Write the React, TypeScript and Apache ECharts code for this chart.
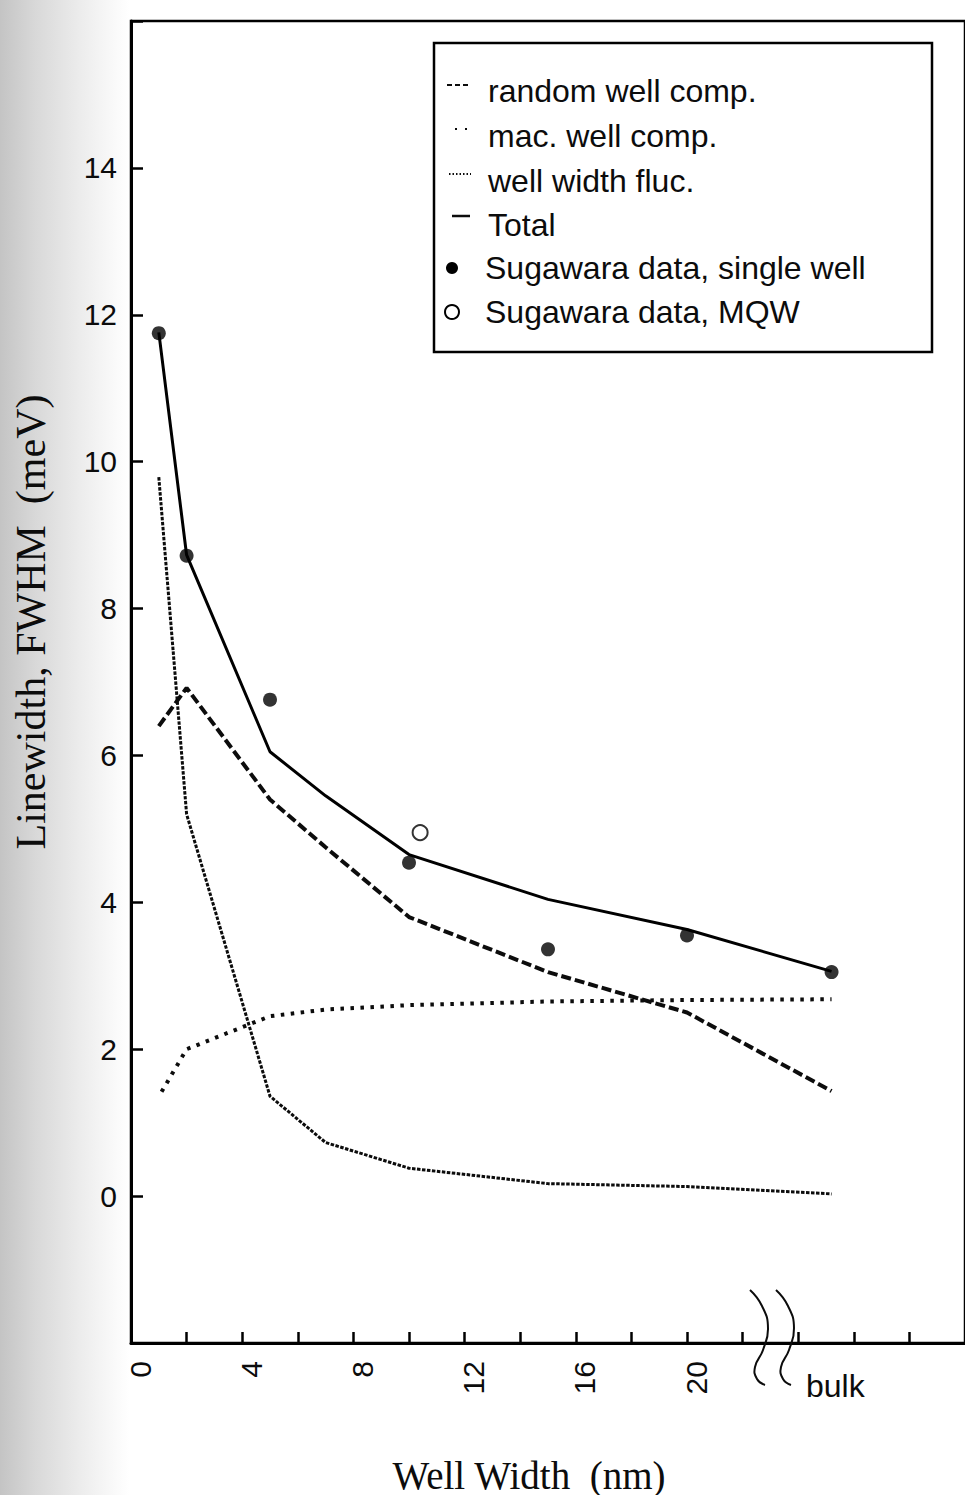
import React, { useEffect, useRef } from "react";
import * as echarts from "echarts";

// Well width (nm); the bulk value is placed at 25.2 beyond the axis break
const totalX = [1, 2, 5, 7, 10, 15, 20, 25.2];
const totalY = [11.76, 8.73, 6.05, 5.45, 4.65, 4.04, 3.63, 3.06];

const randomX = [1, 2, 5, 7, 10, 15, 20, 25.2];
const randomY = [6.4, 6.92, 5.4, 4.75, 3.8, 3.05, 2.5, 1.43];

const macX = [1.1, 2, 5, 7, 10, 15, 20, 25.2];
const macY = [1.42, 2.0, 2.45, 2.54, 2.6, 2.65, 2.67, 2.68];

const fluctX = [1, 2, 5, 7, 10, 15, 20, 25.2];
const fluctY = [9.79, 5.2, 1.36, 0.73, 0.38, 0.17, 0.13, 0.03];

const singleX = [1, 2, 5, 10, 15, 20, 25.2];
const singleY = [11.75, 8.72, 6.76, 4.54, 3.36, 3.55, 3.05];

const mqwX = [10.4];
const mqwY = [4.95];

const xTickLabels = [0, 4, 8, 12, 16, 20];
const yTickLabels = [0, 2, 4, 6, 8, 10, 12, 14];

const legendLabels = [
  "random well comp.",
  "mac. well comp.",
  "well width fluc.",
  "Total",
  "Sugawara data, single well",
  "Sugawara data, MQW",
];

const zip = (xs: number[], ys: number[]) => xs.map((x, i) => [x, ys[i]]);

const SANS = "'Liberation Sans', Arial, Helvetica, sans-serif";
const SERIF = "'Liberation Serif', 'Times New Roman', serif";
const INK = "#0c0c0c";

export default function App() {
  const ref = useRef<HTMLDivElement>(null);

  useEffect(() => {
    if (!ref.current) return;
    const chart = echarts.init(ref.current, undefined, { renderer: "svg" });

    const rowY = [91, 136, 181, 225, 268, 312];

    const legendGroup: any[] = [
      {
        type: "rect",
        shape: { x: 434, y: 43, width: 498, height: 309 },
        style: { fill: "#fff", stroke: "#000", lineWidth: 2.5 },
      },
      {
        type: "line",
        shape: { x1: 447, y1: rowY[0] - 6, x2: 470, y2: rowY[0] - 6 },
        style: { stroke: INK, lineWidth: 2, lineDash: [5, 3] },
      },
      {
        type: "line",
        shape: { x1: 455, y1: rowY[1] - 7, x2: 467, y2: rowY[1] - 7 },
        style: { stroke: INK, lineWidth: 2, lineDash: [2, 8] },
      },
      {
        type: "line",
        shape: { x1: 449, y1: rowY[2] - 7, x2: 471, y2: rowY[2] - 7 },
        style: { stroke: INK, lineWidth: 2, lineDash: [1.5, 2] },
      },
      {
        type: "line",
        shape: { x1: 452, y1: rowY[3] - 9, x2: 470, y2: rowY[3] - 9 },
        style: { stroke: INK, lineWidth: 2.5 },
      },
      {
        type: "circle",
        shape: { cx: 452, cy: rowY[4], r: 6 },
        style: { fill: "#000" },
      },
      {
        type: "circle",
        shape: { cx: 452, cy: rowY[5], r: 7 },
        style: { fill: "#fff", stroke: "#000", lineWidth: 2 },
      },
    ];
    legendLabels.forEach((label, i) => {
      legendGroup.push({
        type: "text",
        x: i < 4 ? 488 : 485,
        y: rowY[i],
        style: {
          text: label,
          font: `32px ${SANS}`,
          fill: INK,
          textAlign: "left",
          textVerticalAlign: "middle",
        },
      });
    });

    // axis break marks before the bulk value
    const breakMark = (dx: number) => ({
      type: "polyline",
      shape: {
        points: [
          [750 + dx, 1290],
          [762 + dx, 1306],
          [768 + dx, 1328],
          [763 + dx, 1350],
          [755 + dx, 1367],
          [757 + dx, 1379],
          [765 + dx, 1385],
        ],
        smooth: 0.5,
      },
      style: { stroke: INK, lineWidth: 2, fill: null },
      z: 10,
    });

    chart.setOption({
      animation: false,
      backgroundColor: "transparent",
      grid: {
        left: 131,
        top: 21,
        width: 835.5,
        height: 1322,
        show: true,
        borderColor: "#000",
        borderWidth: 2.5,
        backgroundColor: "transparent",
      },
      xAxis: {
        type: "value",
        min: 0,
        max: 30,
        interval: 2,
        axisLine: { onZero: false, lineStyle: { color: "#000", width: 3 } },
        axisTick: { inside: true, length: 11, lineStyle: { color: "#000", width: 2.5 } },
        axisLabel: {
          rotate: 90,
          margin: 18,
          fontSize: 30,
          fontFamily: SANS,
          color: INK,
          verticalAlign: "top",
          lineHeight: 18,
          showMinLabel: true,
          formatter: (v: number) => (xTickLabels.includes(v) ? String(v) : ""),
        },
        splitLine: { show: false },
      },
      yAxis: {
        type: "value",
        min: -2,
        max: 16,
        interval: 2,
        axisLine: { onZero: false, lineStyle: { color: "#000", width: 3 } },
        axisTick: { inside: true, length: 12, lineStyle: { color: "#000", width: 2.5 } },
        axisLabel: {
          margin: 14,
          fontSize: 30,
          fontFamily: SANS,
          color: INK,
          padding: [8, 0, 0, 0],
          formatter: (v: number) => (yTickLabels.includes(v) ? String(v) : ""),
        },
        splitLine: { show: false },
      },
      series: [
        {
          name: legendLabels[0],
          type: "line",
          data: zip(randomX, randomY),
          symbol: "none",
          lineStyle: { color: INK, width: 4, type: [10, 4], cap: "butt" },
          z: 2,
        },
        {
          name: legendLabels[1],
          type: "line",
          data: zip(macX, macY),
          symbol: "none",
          lineStyle: { color: INK, width: 4, type: [3.5, 6.5], cap: "butt" },
          z: 2,
        },
        {
          name: legendLabels[2],
          type: "line",
          data: zip(fluctX, fluctY),
          symbol: "none",
          lineStyle: { color: INK, width: 3, type: [3.5, 1.5], cap: "butt" },
          z: 2,
        },
        {
          name: legendLabels[3],
          type: "line",
          data: zip(totalX, totalY),
          symbol: "none",
          lineStyle: { color: "#000", width: 3 },
          z: 3,
        },
        {
          name: legendLabels[4],
          type: "scatter",
          data: zip(singleX, singleY),
          symbol: "circle",
          symbolSize: 14,
          itemStyle: { color: "#000" },
          z: 4,
        },
        {
          name: legendLabels[5],
          type: "scatter",
          data: zip(mqwX, mqwY),
          symbol: "circle",
          symbolSize: 15,
          itemStyle: { color: "#fff", borderColor: "#000", borderWidth: 2 },
          z: 4,
        },
      ],
      graphic: [
        ...legendGroup,
        breakMark(0),
        breakMark(26),
        {
          type: "text",
          x: 806,
          y: 1386,
          style: {
            text: "bulk",
            font: `32px ${SANS}`,
            fill: INK,
            textAlign: "left",
            textVerticalAlign: "middle",
          },
        },
        {
          type: "text",
          x: 31,
          y: 622,
          rotation: Math.PI / 2,
          style: {
            text: "Linewidth, FWHM  (meV)",
            font: `42px ${SERIF}`,
            fill: INK,
            textAlign: "center",
            textVerticalAlign: "middle",
          },
        },
        {
          type: "text",
          x: 529,
          y: 1475,
          style: {
            text: "Well Width  (nm)",
            font: `39px ${SERIF}`,
            fill: INK,
            textAlign: "center",
            textVerticalAlign: "middle",
          },
        },
      ],
    });

    return () => chart.dispose();
  }, []);

  return (
    <div
      ref={ref}
      style={{
        position: "absolute",
        left: 0,
        top: 0,
        width: 965,
        height: 1495,
        background:
          "linear-gradient(to right, #c4c4c4 0px, #d8d8d8 35px, #ececec 80px, #fbfbfb 118px, #ffffff 130px)",
      }}
    />
  );
}
